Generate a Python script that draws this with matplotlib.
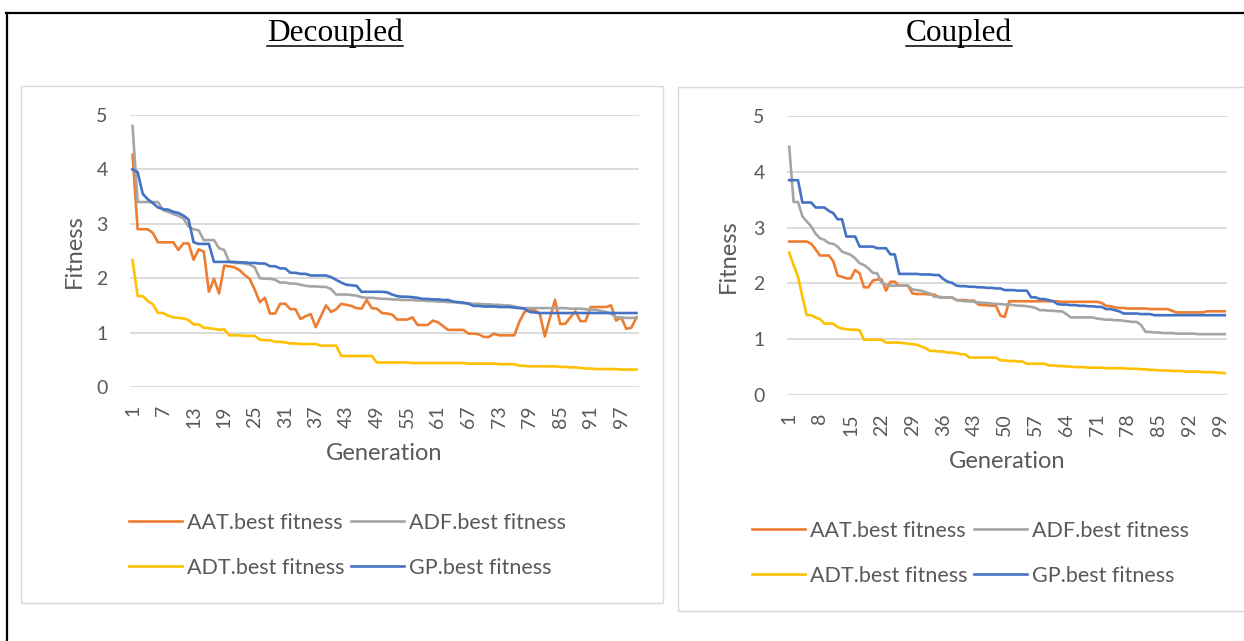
import numpy as np
import matplotlib.pyplot as plt
from matplotlib.lines import Line2D
from matplotlib.patches import Rectangle

W, H = 1244, 641
plt.rcParams['font.family'] = 'Lato'

gen = np.arange(1, 101)

# ---- Decoupled ----
dec_aat = [4.27, 2.90, 2.90, 2.90, 2.83, 2.66, 2.66, 2.66, 2.66, 2.52,
           2.64, 2.64, 2.34, 2.53, 2.49, 1.75, 1.99, 1.72, 2.23, 2.22,
           2.20, 2.15, 2.06, 1.99, 1.79, 1.56, 1.64, 1.35, 1.35, 1.53,
           1.53, 1.43, 1.43, 1.25, 1.30, 1.34, 1.10, 1.30, 1.50, 1.38,
           1.43, 1.53, 1.51, 1.49, 1.45, 1.44, 1.60, 1.45, 1.44, 1.36,
           1.35, 1.33, 1.24, 1.24, 1.24, 1.28, 1.14, 1.14, 1.14, 1.22,
           1.19, 1.12, 1.05, 1.05, 1.05, 1.05, 0.98, 0.98, 0.97, 0.92,
           0.92, 0.98, 0.95, 0.95, 0.95, 0.95, 1.20, 1.38, 1.42, 1.41,
           1.35, 0.93, 1.27, 1.60, 1.16, 1.16, 1.28, 1.39, 1.21, 1.21,
           1.47, 1.47, 1.47, 1.47, 1.50, 1.22, 1.28, 1.07, 1.09, 1.28]
dec_adf = [4.80, 3.40, 3.40, 3.40, 3.40, 3.40, 3.25, 3.22, 3.18, 3.15,
           3.10, 2.95, 2.90, 2.88, 2.70, 2.70, 2.70, 2.55, 2.52, 2.30,
           2.28, 2.28, 2.27, 2.25, 2.20, 2.00, 1.99, 1.99, 1.97, 1.92,
           1.92, 1.90, 1.90, 1.88, 1.86, 1.85, 1.85, 1.84, 1.84, 1.80,
           1.70, 1.70, 1.70, 1.69, 1.68, 1.65, 1.64, 1.64, 1.63, 1.62,
           1.62, 1.61, 1.61, 1.60, 1.60, 1.60, 1.59, 1.59, 1.58, 1.58,
           1.57, 1.57, 1.56, 1.56, 1.55, 1.54, 1.54, 1.53, 1.53, 1.52,
           1.52, 1.51, 1.51, 1.50, 1.50, 1.48, 1.46, 1.45, 1.45, 1.45,
           1.45, 1.45, 1.45, 1.45, 1.45, 1.45, 1.44, 1.44, 1.44, 1.43,
           1.42, 1.42, 1.40, 1.38, 1.35, 1.28, 1.28, 1.27, 1.27, 1.27]
dec_adt = [2.33, 1.67, 1.67, 1.58, 1.52, 1.36, 1.36, 1.31, 1.28, 1.27,
           1.26, 1.23, 1.15, 1.15, 1.09, 1.08, 1.07, 1.05, 1.06, 0.95,
           0.95, 0.95, 0.94, 0.94, 0.94, 0.87, 0.86, 0.86, 0.83, 0.83,
           0.82, 0.80, 0.80, 0.79, 0.79, 0.79, 0.79, 0.76, 0.76, 0.76,
           0.76, 0.57, 0.57, 0.57, 0.57, 0.57, 0.57, 0.57, 0.45, 0.45,
           0.45, 0.45, 0.45, 0.45, 0.45, 0.44, 0.44, 0.44, 0.44, 0.44,
           0.44, 0.44, 0.44, 0.44, 0.44, 0.44, 0.43, 0.43, 0.43, 0.43,
           0.43, 0.43, 0.42, 0.42, 0.42, 0.42, 0.39, 0.39, 0.38, 0.38,
           0.38, 0.38, 0.38, 0.38, 0.37, 0.37, 0.36, 0.36, 0.35, 0.34,
           0.34, 0.33, 0.33, 0.33, 0.33, 0.33, 0.32, 0.32, 0.32, 0.32]
dec_gp = [4.00, 3.95, 3.55, 3.45, 3.38, 3.30, 3.27, 3.26, 3.22, 3.20,
          3.15, 3.08, 2.66, 2.63, 2.63, 2.63, 2.30, 2.30, 2.30, 2.30,
          2.30, 2.29, 2.29, 2.28, 2.28, 2.27, 2.27, 2.22, 2.22, 2.18,
          2.18, 2.10, 2.10, 2.08, 2.08, 2.05, 2.05, 2.05, 2.05, 2.02,
          1.97, 1.92, 1.88, 1.87, 1.86, 1.75, 1.75, 1.75, 1.75, 1.75,
          1.74, 1.70, 1.67, 1.66, 1.66, 1.65, 1.64, 1.62, 1.62, 1.61,
          1.61, 1.60, 1.60, 1.57, 1.56, 1.55, 1.53, 1.49, 1.49, 1.48,
          1.48, 1.48, 1.47, 1.47, 1.47, 1.46, 1.45, 1.44, 1.38, 1.37,
          1.36, 1.36, 1.36, 1.36, 1.36, 1.36, 1.36, 1.36, 1.36, 1.36,
          1.36, 1.36, 1.36, 1.36, 1.36, 1.36, 1.36, 1.36, 1.36, 1.36]

# ---- Coupled ----
cou_aat = [2.75, 2.75, 2.75, 2.75, 2.75, 2.71, 2.61, 2.50, 2.50, 2.50,
           2.40, 2.14, 2.12, 2.09, 2.09, 2.24, 2.18, 1.93, 1.93, 2.05,
           2.07, 2.07, 1.87, 2.03, 2.03, 1.96, 1.96, 1.96, 1.82, 1.81,
           1.81, 1.81, 1.80, 1.80, 1.75, 1.75, 1.75, 1.75, 1.70, 1.70,
           1.70, 1.69, 1.69, 1.62, 1.61, 1.61, 1.60, 1.60, 1.42, 1.40,
           1.68, 1.68, 1.68, 1.68, 1.68, 1.68, 1.68, 1.68, 1.68, 1.68,
           1.68, 1.68, 1.67, 1.67, 1.67, 1.67, 1.67, 1.67, 1.67, 1.67,
           1.67, 1.65, 1.60, 1.59, 1.57, 1.56, 1.56, 1.55, 1.55, 1.55,
           1.55, 1.55, 1.54, 1.54, 1.54, 1.54, 1.54, 1.51, 1.48, 1.48,
           1.48, 1.48, 1.48, 1.48, 1.48, 1.50, 1.50, 1.50, 1.50, 1.50]
cou_adf = [4.45, 3.46, 3.46, 3.20, 3.11, 3.02, 2.89, 2.81, 2.78, 2.72,
           2.71, 2.66, 2.57, 2.54, 2.51, 2.45, 2.36, 2.33, 2.27, 2.19,
           2.18, 2.01, 1.98, 1.96, 1.96, 1.96, 1.96, 1.96, 1.89, 1.88,
           1.87, 1.84, 1.82, 1.76, 1.76, 1.75, 1.75, 1.75, 1.70, 1.69,
           1.68, 1.68, 1.67, 1.66, 1.65, 1.65, 1.64, 1.63, 1.63, 1.62,
           1.62, 1.61, 1.60, 1.60, 1.59, 1.58, 1.56, 1.52, 1.52, 1.51,
           1.51, 1.50, 1.50, 1.45, 1.39, 1.39, 1.39, 1.39, 1.39, 1.39,
           1.37, 1.36, 1.35, 1.35, 1.34, 1.34, 1.33, 1.32, 1.31, 1.31,
           1.25, 1.13, 1.13, 1.12, 1.12, 1.11, 1.11, 1.11, 1.10, 1.10,
           1.10, 1.10, 1.10, 1.09, 1.09, 1.09, 1.09, 1.09, 1.09, 1.09]
cou_adt = [2.55, 2.33, 2.12, 1.76, 1.43, 1.43, 1.39, 1.36, 1.28, 1.28,
           1.28, 1.22, 1.19, 1.18, 1.17, 1.17, 1.16, 0.99, 0.99, 0.99,
           0.99, 0.99, 0.94, 0.94, 0.94, 0.94, 0.93, 0.92, 0.91, 0.90,
           0.87, 0.84, 0.79, 0.79, 0.78, 0.78, 0.76, 0.76, 0.75, 0.73,
           0.73, 0.67, 0.67, 0.67, 0.67, 0.67, 0.67, 0.67, 0.62, 0.62,
           0.61, 0.61, 0.60, 0.60, 0.56, 0.56, 0.56, 0.56, 0.56, 0.53,
           0.53, 0.52, 0.52, 0.51, 0.51, 0.50, 0.50, 0.50, 0.49, 0.49,
           0.49, 0.49, 0.48, 0.48, 0.48, 0.48, 0.48, 0.47, 0.47, 0.47,
           0.46, 0.46, 0.45, 0.45, 0.44, 0.44, 0.44, 0.43, 0.43, 0.43,
           0.42, 0.42, 0.42, 0.42, 0.41, 0.41, 0.41, 0.40, 0.40, 0.39]
cou_gp = [3.85, 3.85, 3.85, 3.45, 3.45, 3.45, 3.36, 3.36, 3.36, 3.30,
          3.26, 3.15, 3.15, 2.84, 2.84, 2.84, 2.66, 2.66, 2.66, 2.66,
          2.63, 2.63, 2.63, 2.52, 2.52, 2.17, 2.17, 2.17, 2.17, 2.17,
          2.16, 2.16, 2.16, 2.15, 2.15, 2.08, 2.03, 2.01, 1.96, 1.95,
          1.95, 1.94, 1.94, 1.93, 1.93, 1.92, 1.92, 1.91, 1.91, 1.88,
          1.88, 1.88, 1.87, 1.87, 1.87, 1.75, 1.75, 1.72, 1.72, 1.70,
          1.68, 1.63, 1.62, 1.62, 1.61, 1.61, 1.60, 1.60, 1.59, 1.59,
          1.58, 1.58, 1.54, 1.54, 1.52, 1.50, 1.46, 1.46, 1.46, 1.46,
          1.45, 1.45, 1.45, 1.43, 1.43, 1.43, 1.43, 1.43, 1.43, 1.43,
          1.43, 1.43, 1.43, 1.43, 1.43, 1.43, 1.43, 1.43, 1.43, 1.43]

labels = ['AAT.best fitness', 'ADF.best fitness', 'ADT.best fitness', 'GP.best fitness']
colors = ['#ED7D31', '#A5A5A5', '#FFC000', '#4472C4']
txt = '#595959'
grid = '#D9D9D9'


def fx(px):
    return px / W


def fy(py):
    return 1 - py / H


fig = plt.figure(figsize=(W / 100, H / 100), dpi=100)

# table frame (top and left rule)
fig.add_artist(Line2D([fx(6), fx(1244)], [fy(13), fy(13)], color='black', lw=1.6))
fig.add_artist(Line2D([fx(7), fx(7)], [fy(13), fy(641)], color='black', lw=1.6))

# chart boxes
fig.add_artist(Rectangle((fx(21), fy(603)), fx(663) - fx(21), fy(86) - fy(603),
                         transform=fig.transFigure, fill=False, ec=grid, lw=1.0))
fig.add_artist(Rectangle((fx(678), fy(611)), fx(1260) - fx(678), fy(87) - fy(611),
                         transform=fig.transFigure, fill=False, ec=grid, lw=1.0))

panels = [
    dict(title='Decoupled', tx=335, box=(130, 115, 639, 387), data=[dec_aat, dec_adf, dec_adt, dec_gp],
         step=6, fit=(74, 251), genl=(384, 453), leg=(129, 513)),
    dict(title='Coupled', tx=959, box=(787, 116, 1227, 395), data=[cou_aat, cou_adf, cou_adt, cou_gp],
         step=7, fit=(728, 256), genl=(1007, 461), leg=(752, 521)),
]

for p in panels:
    x0, y0, x1, y1 = p['box']
    ax = fig.add_axes([fx(x0), fy(y1), fx(x1) - fx(x0), fy(y0) - fy(y1)])
    handles = []
    for vals, c in zip(p['data'], colors):
        h, = ax.plot(gen, vals, color=c, lw=1.9, solid_joinstyle='round')
        handles.append(h)
    ax.set_xlim(0.5, 100.5)
    ax.set_ylim(0, 5)
    ax.set_yticks(range(6))
    ax.set_xticks(range(1, 101, p['step']))
    ax.tick_params(axis='y', length=0, pad=16, labelsize=14, labelcolor=txt)
    ax.tick_params(axis='x', length=0, pad=13, labelsize=14, labelcolor=txt, labelrotation=90)
    for s in ax.spines.values():
        s.set_visible(False)
    ax.grid(axis='y', color=grid, lw=1.3)
    ax.set_axisbelow(True)

    fig.text(fx(p['fit'][0]), fy(p['fit'][1]), 'Fitness', rotation=90, ha='center', va='center',
             fontsize=17, color=txt)
    fig.text(fx(p['genl'][0]), fy(p['genl'][1]), 'Generation', ha='center', va='center',
             fontsize=17, color=txt)

    order = [0, 2, 1, 3]
    fig.legend([handles[i] for i in order], [labels[i] for i in order], ncol=2,
               loc='upper left', bbox_to_anchor=(fx(p['leg'][0]), fy(p['leg'][1])),
               frameon=False, borderpad=0, borderaxespad=0, fontsize=15.5,
               handlelength=2.45, handletextpad=0.25, columnspacing=0.3, labelspacing=1.15,
               labelcolor=txt)

    # underlined header
    t = fig.text(fx(p['tx']), fy(41), p['title'], ha='center', va='baseline',
                 fontsize=22.5, family='Liberation Serif', color='black')
    fig.canvas.draw()
    bb = t.get_window_extent()
    fig.add_artist(Line2D([bb.x0 / W, bb.x1 / W], [fy(45.5), fy(45.5)], color='black', lw=1.1))

fig.savefig('out.png', dpi=100)
